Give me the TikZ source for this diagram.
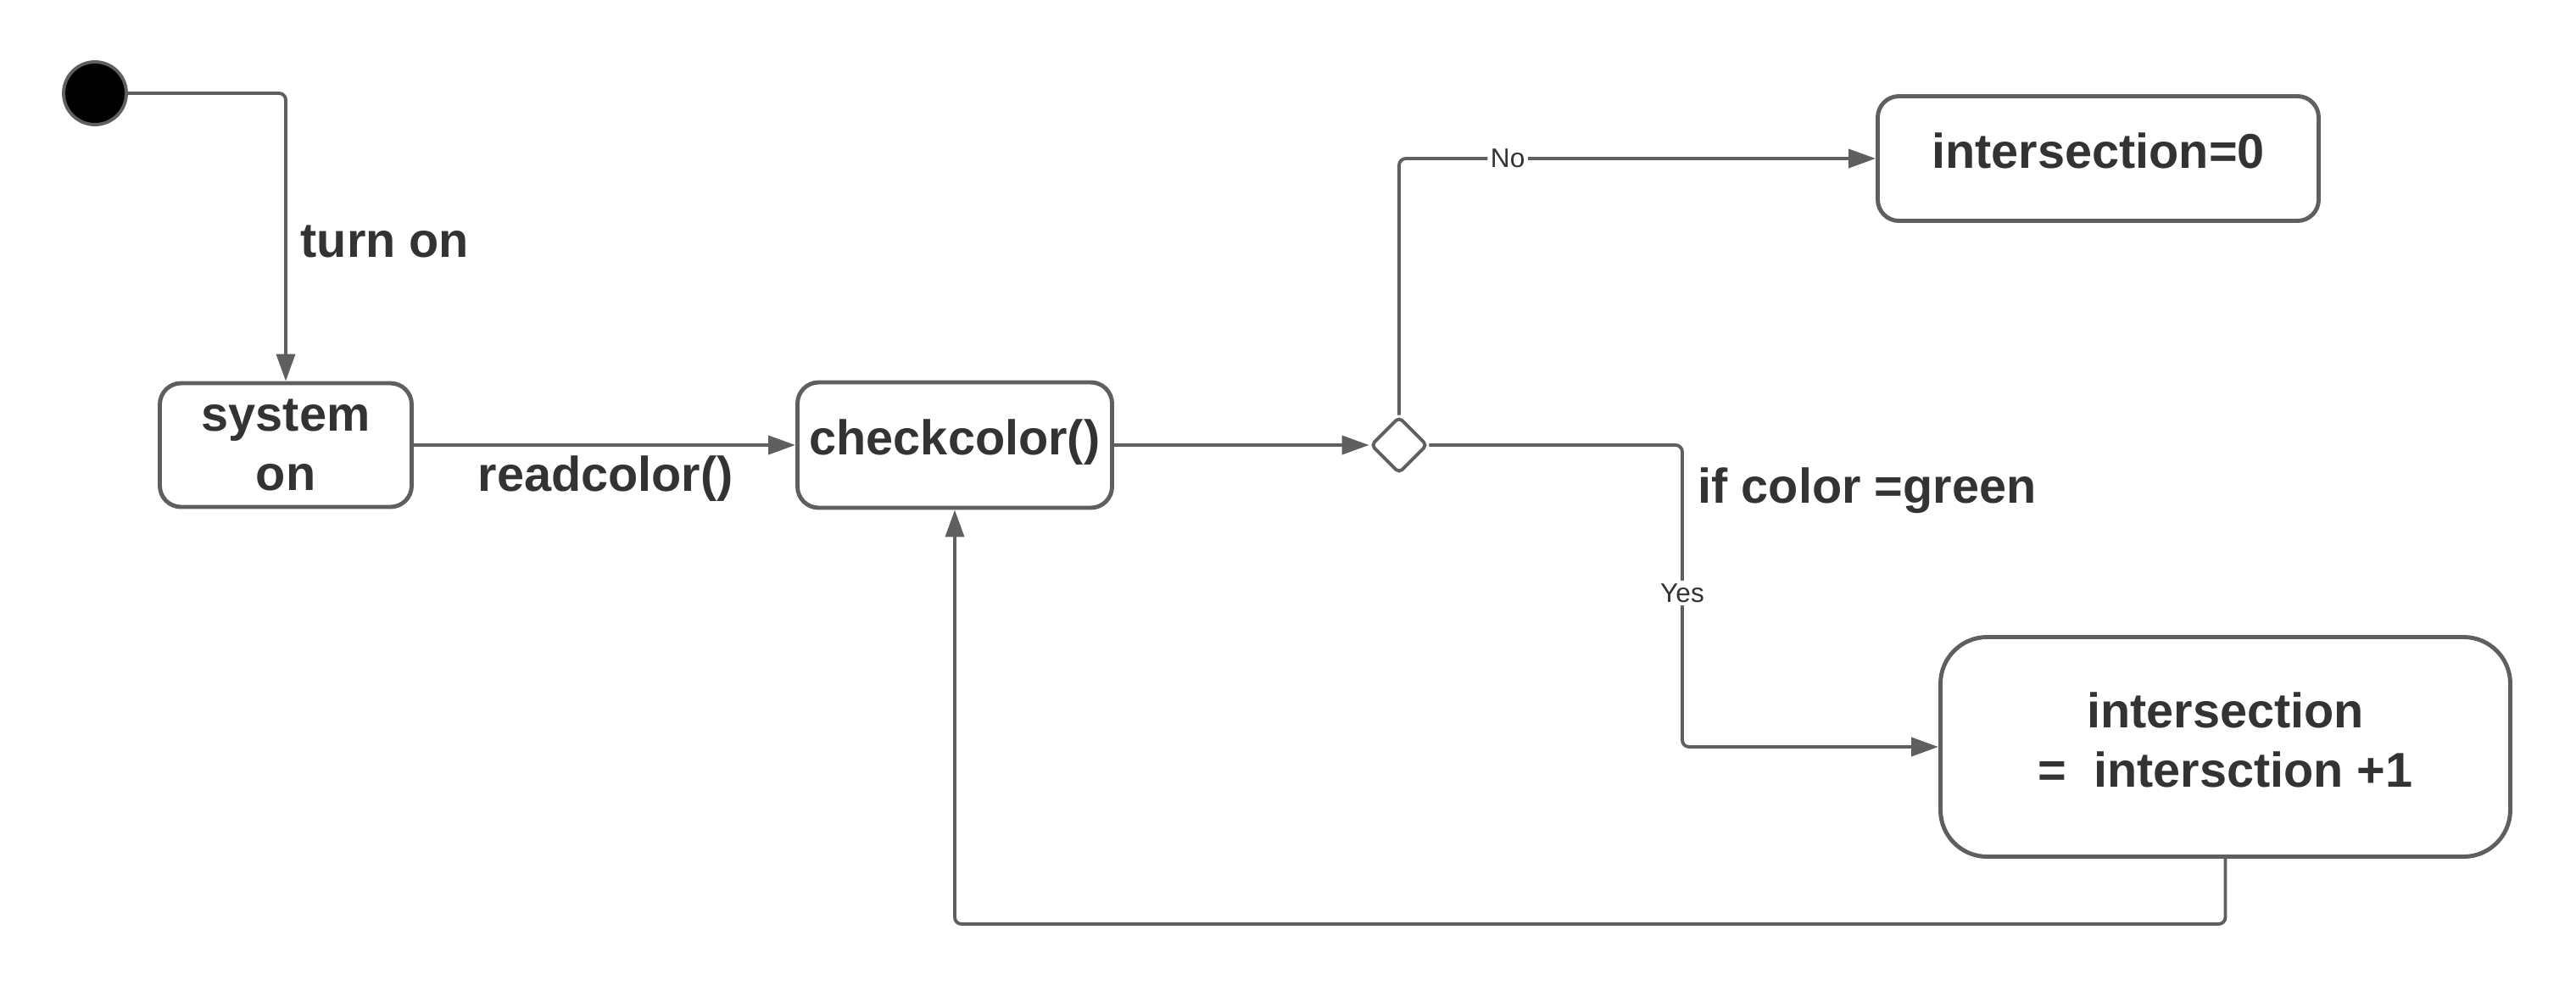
\documentclass[tikz,border=0pt]{standalone}
\usepackage{fontspec}
\setmainfont{Liberation Sans}
\usepackage{tikz}
\usetikzlibrary{arrows.meta,shapes.geometric}

\definecolor{linegray}{HTML}{5F5F5F}
\definecolor{textgray}{HTML}{333333}

\begin{document}
\begin{tikzpicture}[
	state/.style={draw=linegray, line width=1.4pt, rounded corners=0.25cm, fill=white, text=textgray, font=\bfseries\fontsize{16.4pt}{20pt}\selectfont, align=center, inner sep=0pt},
	flow/.style={draw=linegray, line width=1.1pt, rounded corners=0.08cm, -{Triangle[length=0.32cm,width=0.22cm]}},
	guard/.style={text=textgray, font=\bfseries\fontsize{16.4pt}{20pt}\selectfont, inner sep=0pt},
	branch/.style={fill=white, text=textgray, font=\fontsize{9pt}{11pt}\selectfont, inner sep=1pt}
]

	\useasboundingbox (0,0) rectangle (30.38,-11.68);

	% Start
	\node[circle, fill=black, draw=linegray, line width=1.1pt, minimum size=0.74cm, inner sep=0pt] (start) at (1.12,-1.10) {};

	% States
	\node[state, minimum width=2.97cm, minimum height=1.46cm] (sys) at (3.37,-5.25) {system\\on};
	\node[state, minimum width=3.71cm, minimum height=1.48cm, text height=0.42cm, text depth=0.19cm] (check) at (11.26,-5.25) {checkcolor()};
	\node[diamond, draw=linegray, fill=white, line width=1.1pt, rounded corners=1.5pt, minimum width=0.67cm, minimum height=0.67cm, inner sep=0pt] (dec) at (16.50,-5.25) {};
	\node[state, minimum width=5.20cm, minimum height=1.47cm, text height=0.42cm, text depth=0.19cm] (zero) at (24.745,-1.87) {intersection=0};
	\node[state, rounded corners=0.55cm, minimum width=6.72cm, minimum height=2.59cm] (incr) at (26.245,-8.81) {intersection\\= \ intersction +1\rule[-0.17cm]{0pt}{0.17cm}};

	% Transitions
	\draw[flow] (start) -| (sys);
	\node[guard, anchor=base west] (turnon) at (3.54,-3.03) {turn on};
	\draw[flow] (sys) -- (check);
	\node[guard, anchor=base west] (readlbl) at (5.63,-5.79) {readcolor()};
	\draw[flow] (check) -- (dec);

	% Decision
	\draw[flow] (dec.north) |- (zero.west) node[branch, pos=0.614] {No};
	\coordinate (yesbend) at (19.84,-8.81);
	\draw[flow] (dec.east) -| node[branch, pos=0.745] {Yes} (yesbend) -- (incr.west);
	\node[guard, anchor=base west] (greenlbl) at (20.02,-5.93) {if color =green};

	% Back to check
	\coordinate (back) at (11.26,-10.90);
	\draw[flow] (incr.south) |- (back) -- (check.south);
\end{tikzpicture}
\end{document}
